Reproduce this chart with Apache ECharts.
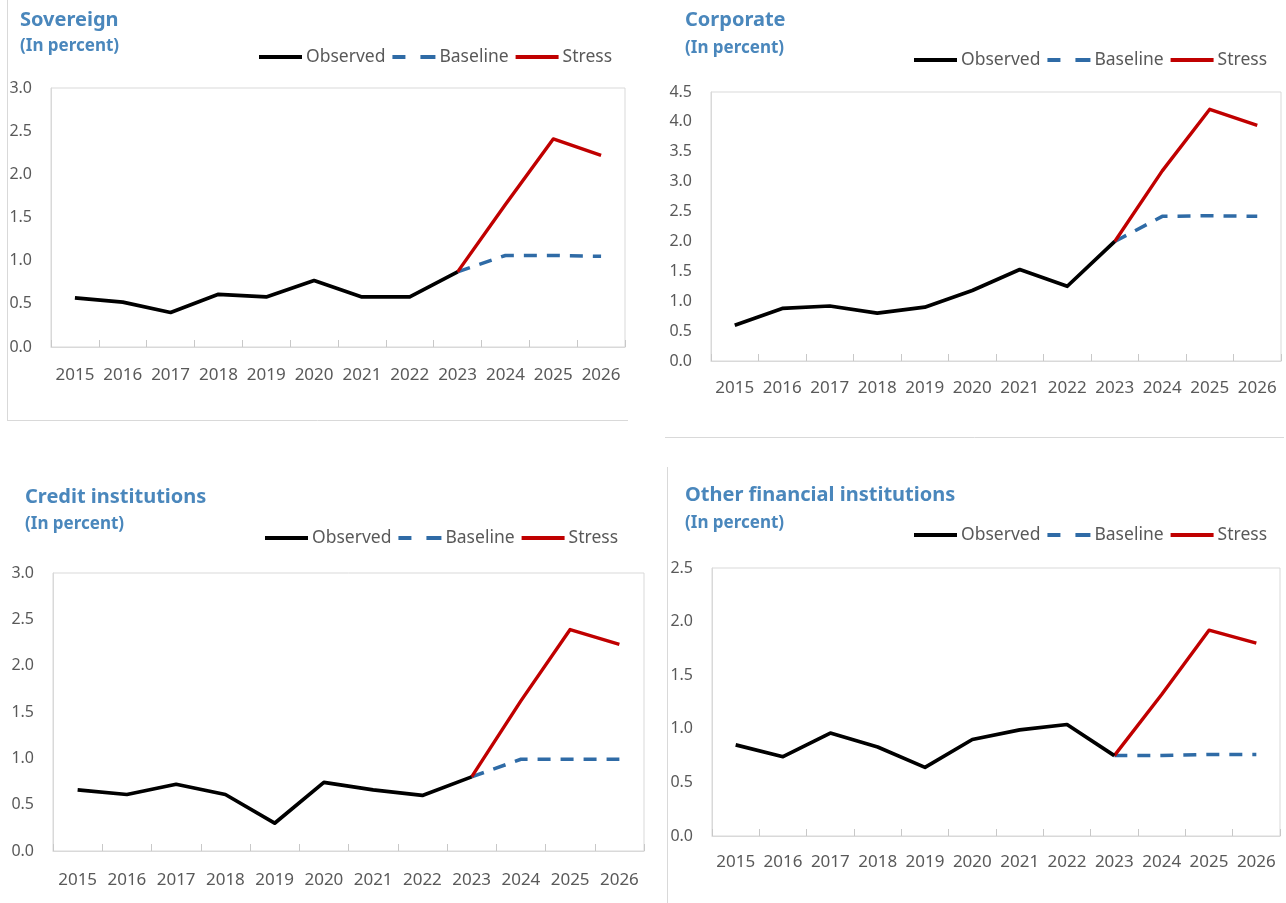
<!DOCTYPE html>
<html>
<head>
<meta charset="utf-8">
<script src="https://cdn.jsdelivr.net/npm/echarts@6/dist/echarts.min.js"></script>
<style>
html,body{margin:0;padding:0;background:#fff;}
#chart{width:1286px;height:903px;}
</style>
</head>
<body>
<div id="chart"></div>
<script>
const years = ['2015','2016','2017','2018','2019','2020','2021','2022','2023','2024','2025','2026'];
const seriesNames = ['Observed','Baseline','Stress'];
const panelTitles = ['Sovereign','Corporate','Credit institutions','Other financial institutions'];
const unitLabel = '(In percent)';

const sovObserved = [0.57,0.52,0.40,0.61,0.58,0.77,0.58,0.58,0.87,null,null,null];
const sovBaseline = [null,null,null,null,null,null,null,null,0.87,1.06,1.06,1.05];
const sovStress   = [null,null,null,null,null,null,null,null,0.87,1.65,2.41,2.22];

const corpObserved = [0.60,0.88,0.92,0.80,0.90,1.18,1.53,1.25,2.00,null,null,null];
const corpBaseline = [null,null,null,null,null,null,null,null,2.00,2.42,2.43,2.42];
const corpStress   = [null,null,null,null,null,null,null,null,2.00,3.18,4.21,3.94];

const crObserved = [0.66,0.61,0.72,0.61,0.30,0.74,0.66,0.60,0.80,null,null,null];
const crBaseline = [null,null,null,null,null,null,null,null,0.80,0.99,0.99,0.99];
const crStress   = [null,null,null,null,null,null,null,null,0.80,1.62,2.39,2.23];

const ofiObserved = [0.85,0.74,0.96,0.83,0.64,0.90,0.99,1.04,0.75,null,null,null];
const ofiBaseline = [null,null,null,null,null,null,null,null,0.75,0.75,0.76,0.76];
const ofiStress   = [null,null,null,null,null,null,null,null,0.75,1.32,1.92,1.80];

const yMax = [3.0, 4.5, 3.0, 2.5];

const panelData = [
  [sovObserved, sovBaseline, sovStress],
  [corpObserved, corpBaseline, corpStress],
  [crObserved, crBaseline, crStress],
  [ofiObserved, ofiBaseline, ofiStress]
];

// layout
const grids = [
  {left:51, top:88, width:574, height:259},
  {left:711, top:92, width:570, height:269},
  {left:53, top:573, width:591, height:278},
  {left:712, top:568, width:568, height:268}
];
const xLabelMargin = [20, 19, 21, 18];
const titlePos = [
  {x:20, y:10, sy:38},
  {x:685, y:10, sy:40},
  {x:25, y:487, sy:516},
  {x:685, y:485, sy:515}
];
const legendPos = [
  {x:259, y:48},
  {x:914, y:51},
  {x:265, y:529},
  {x:914, y:526}
];

const FONT = '"Noto Sans", "Open Sans", sans-serif';
const TITLE_COLOR = '#4A87BC';
const TEXT_COLOR = '#595959';
const AXIS_COLOR = '#D9D9D9';
const lineColors = ['#000000','#2F6BA6','#C00000'];
const lineTypes = ['solid',[13,10],'solid'];
const lineWidths = [3.7, 3.5, 3.4];
const legendIcons = [
  'path://M0,0L43,0L43,4L0,4Z',
  'path://M0,0L13,0L13,4L0,4ZM28,0L43,0L43,4L28,4Z',
  'path://M0,0L43,0L43,4L0,4Z'
];

const chart = echarts.init(document.getElementById('chart'), null, {renderer:'canvas'});

const title = [];
const legend = [];
const xAxis = [];
const yAxis = [];
const series = [];

for (let i = 0; i < 4; i++) {
  title.push({
    text: panelTitles[i], left: titlePos[i].x, top: titlePos[i].y, padding: 0,
    textStyle: {fontFamily: FONT, fontSize: 20, fontWeight: 'bold', color: TITLE_COLOR}
  });
  title.push({
    text: unitLabel, left: titlePos[i].x, top: titlePos[i].sy, padding: 0,
    textStyle: {fontFamily: FONT, fontSize: 17, fontWeight: 'bold', color: TITLE_COLOR}
  });
  legend.push({
    data: seriesNames.map((n, k) => ({name: n, icon: legendIcons[k], itemStyle: {color: lineColors[k], borderWidth: 0}})),
    left: legendPos[i].x, top: legendPos[i].y, padding: 0,
    itemWidth: 43, itemHeight: 4, itemGap: 7, selectedMode: false,
    textStyle: {fontFamily: FONT, fontSize: 17.5, color: TEXT_COLOR, padding: [0,0,0,-1]}
  });
  xAxis.push({
    type: 'category', gridIndex: i, data: years, boundaryGap: true,
    axisLine: {show: true, lineStyle: {color: AXIS_COLOR, width: 1}},
    axisTick: {show: true, inside: true, length: 7, lineStyle: {color: '#C8C8C8'}},
    axisLabel: {fontFamily: FONT, fontSize: 17, color: TEXT_COLOR, margin: xLabelMargin[i], interval: 0},
    splitLine: {show: false}
  });
  yAxis.push({
    type: 'value', gridIndex: i, min: 0, max: yMax[i], interval: 0.5,
    axisLine: {show: true, lineStyle: {color: AXIS_COLOR, width: 1}},
    axisTick: {show: false},
    axisLabel: {fontFamily: FONT, fontSize: 16, color: TEXT_COLOR, margin: 19,
      formatter: v => v.toFixed(1)},
    splitLine: {show: false}
  });
  for (let s = 0; s < 3; s++) {
    series.push({
      name: seriesNames[s], type: 'line', xAxisIndex: i, yAxisIndex: i,
      data: panelData[i][s], symbol: 'none', showSymbol: false, connectNulls: false,
      z: s === 0 ? 4 : (s === 2 ? 3 : 2),
      lineStyle: {color: lineColors[s], width: lineWidths[s], type: lineTypes[s], cap: 'butt', join: 'round'},
      itemStyle: {color: lineColors[s]},
      emphasis: {disabled: true},
      animation: false
    });
  }
}

const option = {
  backgroundColor: '#ffffff',
  animation: false,
  title: title,
  legend: legend,
  grid: grids.map(g => Object.assign({show: true, borderColor: AXIS_COLOR, borderWidth: 1, containLabel: false}, g)),
  xAxis: xAxis,
  yAxis: yAxis,
  series: series,
  graphic: [
    {type:'line', shape:{x1:7.5,y1:0,x2:7.5,y2:420}, style:{stroke:AXIS_COLOR, lineWidth:1}, silent:true},
    {type:'line', shape:{x1:7,y1:420.5,x2:628,y2:420.5}, style:{stroke:AXIS_COLOR, lineWidth:1}, silent:true},
    {type:'line', shape:{x1:665,y1:437.5,x2:1284,y2:437.5}, style:{stroke:AXIS_COLOR, lineWidth:1}, silent:true},
    {type:'line', shape:{x1:667.5,y1:467,x2:667.5,y2:903}, style:{stroke:AXIS_COLOR, lineWidth:1}, silent:true}
  ]
};
chart.setOption(option);
</script>
</body>
</html>
